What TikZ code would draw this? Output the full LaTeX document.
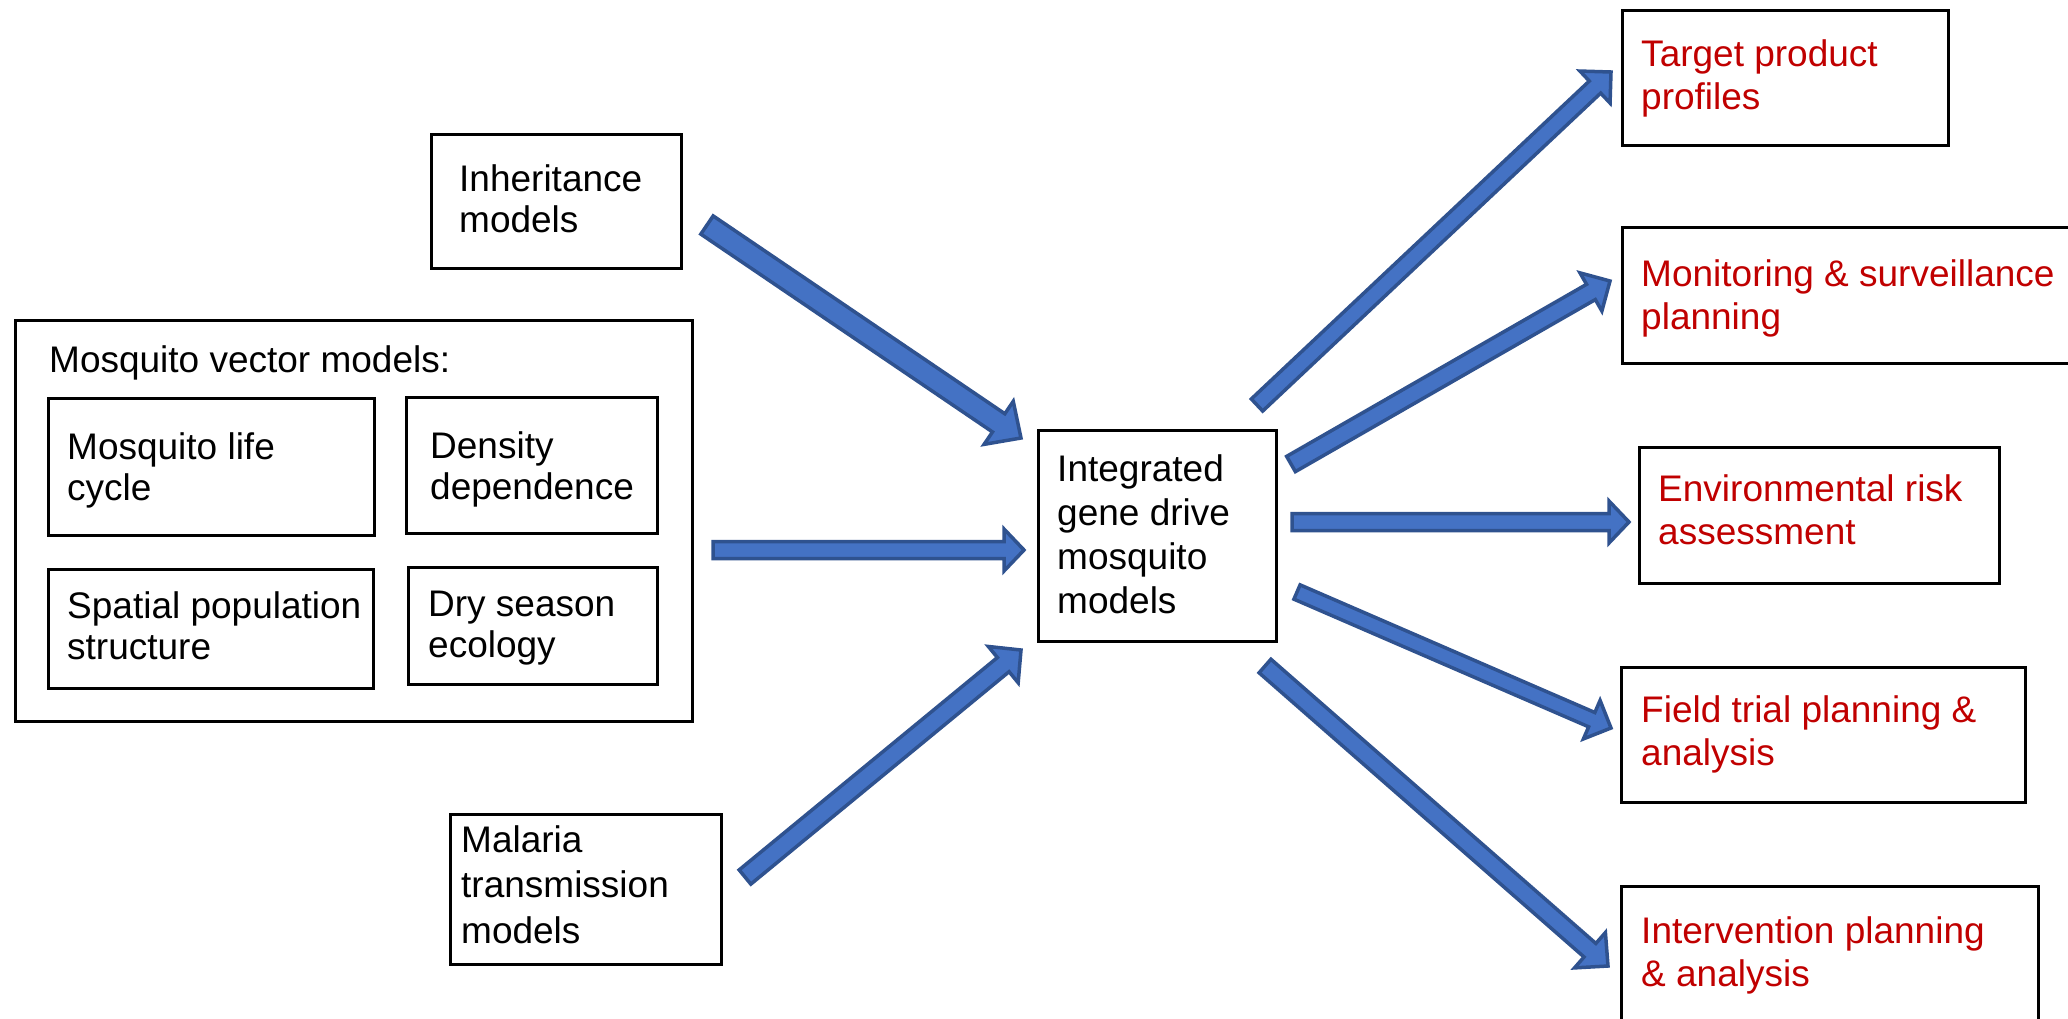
\documentclass[tikz,border=0pt]{standalone}
\usepackage{fontspec}
\setmainfont{Liberation Sans}
\usetikzlibrary{calc}
\definecolor{arrfill}{HTML}{4472C4}
\definecolor{arrline}{HTML}{2F528F}
\definecolor{outred}{HTML}{C00000}
\newcommand\mlines[1]{\vtop{\halign{##\hfil\cr#1\crcr}}}
\newcommand\barrow[5]{%
  \coordinate (hb) at ($(#2)!#5!(#1)$);
  \path[blockarr] ($(#1)!#3!90:(#2)$) -- ($(hb)!#3!90:(#2)$) -- ($(hb)!#4!90:(#2)$) -- (#2)
    -- ($(hb)!#4!-90:(#2)$) -- ($(hb)!#3!-90:(#2)$) -- ($(#1)!#3!-90:(#2)$) -- cycle;}
\begin{document}
\begin{tikzpicture}[x=1pt,y=-1pt,
  box/.style={draw=black,line width=2.5pt,inner sep=0pt,anchor=north west},
  txt/.style={anchor=base west,inner sep=0pt,font=\fontsize{37}{41}\selectfont},
  ctxt/.style={txt,font=\fontsize{37}{44}\selectfont},
  mtxt/.style={txt,font=\fontsize{37}{45.5}\selectfont},
  redtxt/.style={anchor=base west,inner sep=0pt,text=outred,font=\fontsize{37}{43}\selectfont},
  blockarr/.style={fill=arrfill,draw=arrline,line width=3.5pt,line join=miter}]
\useasboundingbox (0,0) rectangle (2068,1018);

% left boxes
\node[box,minimum width=250pt,minimum height=134pt] (inh) at (430,133) {};
\node[txt] (inhT) at (459,191) {\mlines{Inheritance\cr models}};

\node[box,minimum width=677pt,minimum height=401pt] (vec) at (14,319) {};
\node[txt] (vecT) at (49,372) {Mosquito vector models:};

\node[box,minimum width=326pt,minimum height=137pt] (life) at (47,397) {};
\node[txt] (lifeT) at (67,459) {\mlines{Mosquito life\cr cycle}};

\node[box,minimum width=251pt,minimum height=136pt] (dens) at (405,396) {};
\node[txt] (densT) at (430,458) {\mlines{Density\cr dependence}};

\node[box,minimum width=325pt,minimum height=119pt] (spat) at (47,568) {};
\node[txt] (spatT) at (67,618) {\mlines{Spatial population\cr structure}};

\node[box,minimum width=249pt,minimum height=117pt] (dry) at (407,566) {};
\node[txt] (dryT) at (428,616) {\mlines{Dry season\cr ecology}};

\node[box,minimum width=271pt,minimum height=150pt] (mal) at (449,813) {};
\node[mtxt] (malT) at (461,852) {\mlines{Malaria\cr transmission\cr models}};

% centre
\node[box,minimum width=238pt,minimum height=211pt] (cen) at (1037,429) {};
\node[ctxt] (cenT) at (1057,481) {\mlines{Integrated\cr gene drive\cr mosquito\cr models}};

% right boxes
\node[box,minimum width=326pt,minimum height=135pt] (tpp) at (1621,9) {};
\node[redtxt] (tppT) at (1641,66) {\mlines{Target product\cr profiles}};

\node[box,minimum width=470pt,minimum height=136pt] (mon) at (1621,226) {};
\node[redtxt] (monT) at (1641,286) {\mlines{Monitoring \& surveillance\cr planning}};

\node[box,minimum width=360pt,minimum height=136pt] (env) at (1638,446) {};
\node[redtxt] (envT) at (1658,501) {\mlines{Environmental risk\cr assessment}};

\node[box,minimum width=404pt,minimum height=135pt] (fld) at (1620,666) {};
\node[redtxt] (fldT) at (1641,722) {\mlines{Field trial planning \&\cr analysis}};

\node[box,minimum width=417pt,minimum height=136pt] (int) at (1620,885) {};
\node[redtxt] (intT) at (1641,943) {\mlines{Intervention planning\cr \& analysis}};

% arrow ends
\coordinate (a1s) at (707,225);  \coordinate (a1e) at (1021,438);
\coordinate (a2s) at (713,550);  \coordinate (a2e) at (1024,550);
\coordinate (a3s) at (745,877);  \coordinate (a3e) at (1021,650);
\coordinate (b1s) at (1257,405); \coordinate (b1e) at (1611,72);
\coordinate (b2s) at (1291,464); \coordinate (b2e) at (1610,281);
\coordinate (b3s) at (1292,522); \coordinate (b3e) at (1629,522);
\coordinate (b4s) at (1297,592); \coordinate (b4e) at (1611,728);
\coordinate (b5s) at (1265,666); \coordinate (b5e) at (1608,966);

\barrow{a1s}{a1e}{11pt}{26pt}{27pt}
\barrow{a2s}{a2e}{8.5pt}{21pt}{20pt}
\barrow{a3s}{a3e}{9.2pt}{23.5pt}{23pt}
\barrow{b1s}{b1e}{8.3pt}{22pt}{22pt}
\barrow{b2s}{b2e}{8.8pt}{22pt}{22pt}
\barrow{b3s}{b3e}{8.5pt}{21pt}{20pt}
\barrow{b4s}{b4e}{7.8pt}{21pt}{21pt}
\barrow{b5s}{b5e}{9pt}{23.5pt}{24pt}
\end{tikzpicture}
\end{document}
